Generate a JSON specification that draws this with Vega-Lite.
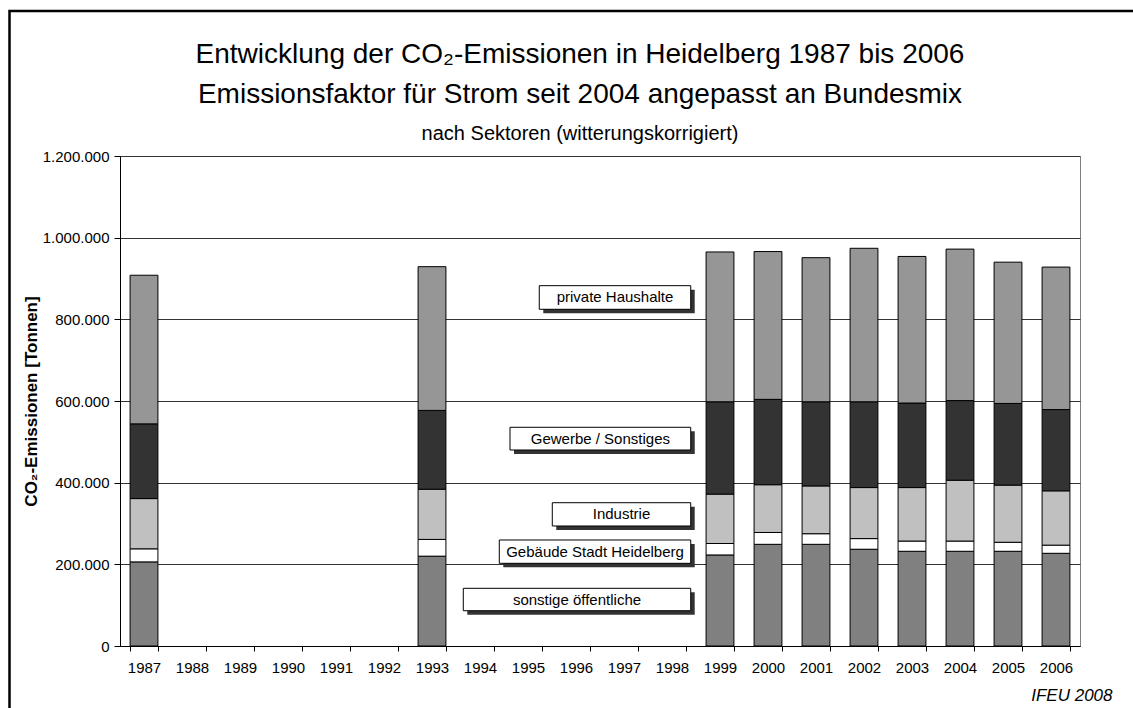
{
  "$schema": "https://vega.github.io/schema/vega-lite/v6.json",
  "width": 960,
  "height": 490,
  "autosize": {"type": "none"},
  "padding": {"left": 120, "top": 156, "right": 53, "bottom": 62},
  "background": "white",
  "config": {
    "font": "Liberation Sans",
    "locale": {"number": {"decimal": ",", "thousands": ".", "grouping": [3], "currency": ["", " €"]}},
    "view": {"stroke": "#808080", "strokeWidth": 1},
    "axis": {"labelColor": "black", "titleColor": "black", "domainColor": "black", "tickColor": "black", "labelFont": "Liberation Sans", "titleFont": "Liberation Sans"}
  },
  "title": {
    "text": ["Entwicklung der CO₂-Emissionen in Heidelberg 1987 bis 2006", "Emissionsfaktor für Strom seit 2004 angepasst an Bundesmix"],
    "subtitle": "nach Sektoren (witterungskorrigiert)",
    "anchor": "middle",
    "frame": "group",
    "dx": -20,
    "fontSize": 28,
    "fontWeight": "normal",
    "lineHeight": 40,
    "color": "black",
    "subtitleFontSize": 20,
    "subtitleColor": "black",
    "subtitlePadding": 15,
    "offset": -134,
    "font": "Liberation Sans",
    "subtitleFont": "Liberation Sans"
  },
  "datasets": {
    "emissions": [
      {"year": "1987", "sector": "sonstige öffentliche", "value": 206000},
      {"year": "1987", "sector": "Gebäude Stadt Heidelberg", "value": 32000},
      {"year": "1987", "sector": "Industrie", "value": 123000},
      {"year": "1987", "sector": "Gewerbe / Sonstiges", "value": 183000},
      {"year": "1987", "sector": "private Haushalte", "value": 364000},
      {"year": "1993", "sector": "sonstige öffentliche", "value": 220000},
      {"year": "1993", "sector": "Gebäude Stadt Heidelberg", "value": 41000},
      {"year": "1993", "sector": "Industrie", "value": 123000},
      {"year": "1993", "sector": "Gewerbe / Sonstiges", "value": 193000},
      {"year": "1993", "sector": "private Haushalte", "value": 352000},
      {"year": "1999", "sector": "sonstige öffentliche", "value": 223000},
      {"year": "1999", "sector": "Gebäude Stadt Heidelberg", "value": 28000},
      {"year": "1999", "sector": "Industrie", "value": 121000},
      {"year": "1999", "sector": "Gewerbe / Sonstiges", "value": 226000},
      {"year": "1999", "sector": "private Haushalte", "value": 367000},
      {"year": "2000", "sector": "sonstige öffentliche", "value": 249000},
      {"year": "2000", "sector": "Gebäude Stadt Heidelberg", "value": 29000},
      {"year": "2000", "sector": "Industrie", "value": 117000},
      {"year": "2000", "sector": "Gewerbe / Sonstiges", "value": 209000},
      {"year": "2000", "sector": "private Haushalte", "value": 362000},
      {"year": "2001", "sector": "sonstige öffentliche", "value": 249000},
      {"year": "2001", "sector": "Gebäude Stadt Heidelberg", "value": 26000},
      {"year": "2001", "sector": "Industrie", "value": 117000},
      {"year": "2001", "sector": "Gewerbe / Sonstiges", "value": 206000},
      {"year": "2001", "sector": "private Haushalte", "value": 353000},
      {"year": "2002", "sector": "sonstige öffentliche", "value": 237000},
      {"year": "2002", "sector": "Gebäude Stadt Heidelberg", "value": 26000},
      {"year": "2002", "sector": "Industrie", "value": 125000},
      {"year": "2002", "sector": "Gewerbe / Sonstiges", "value": 210000},
      {"year": "2002", "sector": "private Haushalte", "value": 376000},
      {"year": "2003", "sector": "sonstige öffentliche", "value": 232000},
      {"year": "2003", "sector": "Gebäude Stadt Heidelberg", "value": 25000},
      {"year": "2003", "sector": "Industrie", "value": 131000},
      {"year": "2003", "sector": "Gewerbe / Sonstiges", "value": 207000},
      {"year": "2003", "sector": "private Haushalte", "value": 359000},
      {"year": "2004", "sector": "sonstige öffentliche", "value": 232000},
      {"year": "2004", "sector": "Gebäude Stadt Heidelberg", "value": 25000},
      {"year": "2004", "sector": "Industrie", "value": 149000},
      {"year": "2004", "sector": "Gewerbe / Sonstiges", "value": 195000},
      {"year": "2004", "sector": "private Haushalte", "value": 371000},
      {"year": "2005", "sector": "sonstige öffentliche", "value": 232000},
      {"year": "2005", "sector": "Gebäude Stadt Heidelberg", "value": 22000},
      {"year": "2005", "sector": "Industrie", "value": 140000},
      {"year": "2005", "sector": "Gewerbe / Sonstiges", "value": 200000},
      {"year": "2005", "sector": "private Haushalte", "value": 346000},
      {"year": "2006", "sector": "sonstige öffentliche", "value": 227000},
      {"year": "2006", "sector": "Gebäude Stadt Heidelberg", "value": 20000},
      {"year": "2006", "sector": "Industrie", "value": 133000},
      {"year": "2006", "sector": "Gewerbe / Sonstiges", "value": 199000},
      {"year": "2006", "sector": "private Haushalte", "value": 349000}
    ],
    "labels": [
      {"label": "private Haushalte", "x1": 8.735, "x2": 11.89, "y1": 824600, "y2": 882400},
      {"label": "Gewerbe / Sonstiges", "x1": 8.125, "x2": 11.89, "y1": 480000, "y2": 535600},
      {"label": "Industrie", "x1": 9.006, "x2": 11.89, "y1": 293900, "y2": 350900},
      {"label": "Gebäude Stadt Heidelberg", "x1": 7.902, "x2": 11.89, "y1": 202500, "y2": 259600},
      {"label": "sonstige öffentliche", "x1": 7.152, "x2": 11.89, "y1": 86400, "y2": 141300}
    ],
    "frame": [
      {"x1": -2.302, "x2": 21.3, "y1": -190000, "y2": 1555000}
    ]
  },
  "layer": [
    {
      "data": {"name": "emissions"},
      "transform": [
        {"calculate": "indexof(['sonstige öffentliche', 'Gebäude Stadt Heidelberg', 'Industrie', 'Gewerbe / Sonstiges', 'private Haushalte'], datum.sector)", "as": "stackOrder"}
      ],
      "mark": {"type": "bar", "stroke": "black", "strokeWidth": 1},
      "encoding": {
        "x": {
          "field": "year",
          "type": "ordinal",
          "scale": {
            "domain": ["1987", "1988", "1989", "1990", "1991", "1992", "1993", "1994", "1995", "1996", "1997", "1998", "1999", "2000", "2001", "2002", "2003", "2004", "2005", "2006"],
            "paddingInner": 0.42,
            "paddingOuter": 0.21
          },
          "axis": {
            "title": "IFEU 2008",
            "titleFontStyle": "italic",
            "titleFontWeight": "normal",
            "titleFontSize": 17,
            "titleAnchor": "end",
            "titleAlign": "right",
            "titleBaseline": "alphabetic",
            "titleX": 992,
            "titleY": 54,
            "labelAngle": 0,
            "labelFontSize": 15,
            "labelPadding": 9,
            "tickBand": "extent",
            "tickSize": 5,
            "grid": false
          }
        },
        "y": {
          "field": "value",
          "type": "quantitative",
          "stack": "zero",
          "scale": {"domain": [0, 1200000], "nice": false},
          "axis": {
            "title": "CO₂-Emissionen [Tonnen]",
            "titleFontSize": 17,
            "titleFontWeight": "bold",
            "titleX": -89,
            "titleY": 245,
            "titleAlign": "center",
            "titleBaseline": "middle",
            "values": [0, 200000, 400000, 600000, 800000, 1000000, 1200000],
            "format": ",d",
            "labelFontSize": 15,
            "labelPadding": 5,
            "tickSize": 6,
            "grid": true,
            "gridColor": "#333333",
            "gridWidth": 1
          }
        },
        "color": {
          "field": "sector",
          "type": "nominal",
          "scale": {
            "domain": ["sonstige öffentliche", "Gebäude Stadt Heidelberg", "Industrie", "Gewerbe / Sonstiges", "private Haushalte"],
            "range": ["#808080", "#FFFFFF", "#C0C0C0", "#333333", "#969696"]
          },
          "legend": null
        },
        "order": {"field": "stackOrder", "type": "quantitative", "sort": "ascending"}
      }
    },
    {
      "layer": [
        {
          "data": {"name": "labels"},
          "mark": {"type": "rect", "fill": "#333333", "xOffset": 4, "x2Offset": 4, "yOffset": 4, "y2Offset": 4},
          "encoding": {
            "x": {"field": "x1", "type": "quantitative", "scale": {"domain": [0, 20], "nice": false, "zero": false}, "axis": null},
            "x2": {"field": "x2"},
            "y": {"field": "y1", "type": "quantitative", "axis": null},
            "y2": {"field": "y2"}
          }
        },
        {
          "data": {"name": "labels"},
          "mark": {"type": "rect", "fill": "white", "stroke": "black", "strokeWidth": 1},
          "encoding": {
            "x": {"field": "x1", "type": "quantitative", "scale": {"domain": [0, 20], "nice": false, "zero": false}, "axis": null},
            "x2": {"field": "x2"},
            "y": {"field": "y1", "type": "quantitative", "axis": null},
            "y2": {"field": "y2"}
          }
        },
        {
          "data": {"name": "labels"},
          "transform": [
            {"calculate": "(datum.x1 + datum.x2) / 2", "as": "xc"},
            {"calculate": "(datum.y1 + datum.y2) / 2", "as": "yc"}
          ],
          "mark": {"type": "text", "fontSize": 15, "color": "black", "align": "center", "baseline": "middle", "font": "Liberation Sans"},
          "encoding": {
            "x": {"field": "xc", "type": "quantitative", "scale": {"domain": [0, 20], "nice": false, "zero": false}, "axis": null},
            "y": {"field": "yc", "type": "quantitative", "axis": null},
            "text": {"field": "label"}
          }
        },
        {
          "data": {"name": "frame"},
          "mark": {"type": "rect", "fill": null, "fillOpacity": 0, "stroke": "black", "strokeWidth": 2.5, "clip": false},
          "encoding": {
            "x": {"field": "x1", "type": "quantitative", "scale": {"domain": [0, 20], "nice": false, "zero": false}, "axis": null},
            "x2": {"field": "x2"},
            "y": {"field": "y1", "type": "quantitative", "axis": null},
            "y2": {"field": "y2"}
          }
        }
      ]
    }
  ],
  "resolve": {"scale": {"x": "independent"}, "axis": {"x": "independent", "y": "independent"}}
}
